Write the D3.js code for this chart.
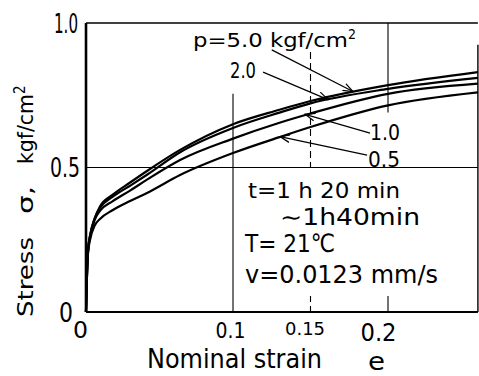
<!DOCTYPE html>
<html>
<head>
<meta charset="utf-8">
<script src="https://cdn.jsdelivr.net/npm/d3@7"></script>
<style>
  body { margin: 0; background: #fff; }
  svg { display: block; background: #fff; }
  text { font-family: "DejaVu Sans Condensed", "DejaVu Sans", sans-serif; fill: #000; }
</style>
</head>
<body>
<svg id="chart" width="479" height="376"></svg>
<script>
// Nominal strain sample points shared by all four curves
const strainPts = [0, 0.0005, 0.0014, 0.003, 0.006, 0.0095, 0.018, 0.03, 0.0415, 0.064, 0.1, 0.13, 0.15, 0.2, 0.258];
// Stress (kgf/cm2) for each confining pressure p
const stressP50 = [0, 0.10, 0.215, 0.27, 0.325, 0.365, 0.405, 0.448, 0.488, 0.561, 0.650, 0.700, 0.730, 0.785, 0.830];
const stressP20 = [0, 0.10, 0.215, 0.27, 0.325, 0.360, 0.398, 0.437, 0.475, 0.553, 0.637, 0.690, 0.722, 0.772, 0.810];
const stressP10 = [0, 0.10, 0.210, 0.265, 0.320, 0.350, 0.383, 0.420, 0.458, 0.526, 0.600, 0.655, 0.687, 0.755, 0.790];
const stressP05 = [0, 0.10, 0.205, 0.255, 0.300, 0.322, 0.352, 0.384, 0.412, 0.474, 0.550, 0.605, 0.640, 0.715, 0.760];
const pressures = ["5.0", "2.0", "1.0", "0.5"];
const yTicks = [0, 0.5, 1.0];
const yTickLabels = ["0", "0.5", "1.0"];
const xTicks = [0, 0.1, 0.15, 0.2];
const xTickLabels = ["0", "0.1", "0.15", "0.2"];
const conditions = ["t=1 h 20 min", "\u223c1h40min", "T= 21\u2103", "v=0.0123 mm/s"];

const svg = d3.select("#chart");
const x = d3.scaleLinear().domain([0, 0.1, 0.2, 0.26]).range([86, 233, 388, 481]);
const y = d3.scaleLinear().domain([0, 1]).range([312, 23]);
const xMax = 0.258;

// Frame
const frame = svg.append("g").attr("stroke", "#000").attr("fill", "none");
frame.append("line").attr("x1", x(0)).attr("x2", x(0)).attr("y1", y(1)).attr("y2", y(0)).attr("stroke-width", 2.6);
frame.append("line").attr("x1", x(0)).attr("x2", x(xMax)).attr("y1", y(0)).attr("y2", y(0)).attr("stroke-width", 2);
frame.append("line").attr("x1", x(0)).attr("x2", x(xMax)).attr("y1", y(1)).attr("y2", y(1)).attr("stroke-width", 1.4);
frame.append("line").attr("x1", x(xMax)).attr("x2", x(xMax)).attr("y1", y(0.925)).attr("y2", y(0)).attr("stroke-width", 1.4);

// Grid lines
const grid = svg.append("g").attr("stroke", "#000").attr("fill", "none").attr("stroke-width", 1.1);
grid.append("line").attr("x1", x(0)).attr("x2", x(xMax)).attr("y1", y(0.5)).attr("y2", y(0.5));
grid.append("line").attr("x1", x(0.1)).attr("x2", x(0.1)).attr("y1", y(0.755)).attr("y2", y(0));
grid.append("line").attr("x1", x(0.2)).attr("x2", x(0.2)).attr("y1", y(1)).attr("y2", y(0.69));
grid.append("line").attr("x1", x(0.2)).attr("x2", x(0.2)).attr("y1", y(0.055)).attr("y2", y(0));
grid.append("line").attr("x1", x(0.15)).attr("x2", x(0.15)).attr("y1", y(0.9)).attr("y2", y(0.5))
  .attr("stroke-dasharray", "7,4");
grid.append("line").attr("x1", x(0.15)).attr("x2", x(0.15)).attr("y1", y(0.055)).attr("y2", y(0))
  .attr("stroke-dasharray", "6,4");

const FONT = "'DejaVu Sans Condensed', 'DejaVu Sans', sans-serif";

// Axes (labels only, the frame draws the lines)
const yTickStyle = { 0: { size: 26, len: 14, dx: -5 }, 0.5: { size: 26, len: 30, dx: 2 }, 1: { size: 26, len: 24, dx: 0 } };
const yAxis = svg.append("g")
  .attr("transform", `translate(${x(0)},0)`)
  .call(d3.axisLeft(y).tickValues(yTicks).tickSize(0).tickPadding(8)
    .tickFormat((d, i) => yTickLabels[i]));
yAxis.select(".domain").remove();
yAxis.selectAll("text")
  .style("font-family", FONT)
  .attr("font-size", (d) => yTickStyle[d].size)
  .attr("textLength", (d) => yTickStyle[d].len)
  .attr("lengthAdjust", "spacingAndGlyphs")
  .attr("dx", (d) => yTickStyle[d].dx)
  .attr("dy", "0.36em");

const xTickStyle = { 0: { size: 23, len: 15, dx: -6, y: 338 }, 0.1: { size: 21, len: 30, dx: -3, y: 338 },
  0.15: { size: 17, len: 40, dx: -6, y: 335 }, 0.2: { size: 24, len: 36, dx: -10, y: 341 } };
const xAxis = svg.append("g")
  .call(d3.axisBottom(x).tickValues(xTicks).tickSize(0)
    .tickFormat((d, i) => xTickLabels[i]));
xAxis.select(".domain").remove();
xAxis.selectAll("text")
  .style("font-family", FONT)
  .attr("font-size", (d) => xTickStyle[d].size)
  .attr("textLength", (d) => xTickStyle[d].len)
  .attr("lengthAdjust", "spacingAndGlyphs")
  .attr("dx", (d) => xTickStyle[d].dx)
  .attr("y", (d) => xTickStyle[d].y)
  .attr("dy", 0);

// Curves
const series = [stressP50, stressP20, stressP10, stressP05].map((vals, i) => ({
  p: pressures[i],
  points: strainPts.map((s, j) => [s, vals[j]]),
}));
const line = d3.line().x((d) => x(d[0])).y((d) => y(d[1])).curve(d3.curveMonotoneX);
svg.append("g")
  .selectAll("path")
  .data(series)
  .join("path")
  .attr("d", (d) => line(d.points))
  .attr("fill", "none")
  .attr("stroke", "#000")
  .attr("stroke-width", 2.2)
  .attr("stroke-linejoin", "round");

// Open arrowheads for the label leaders
svg.append("defs").append("marker")
  .attr("id", "arrow")
  .attr("viewBox", "0 -5 11 10")
  .attr("refX", 10)
  .attr("refY", 0)
  .attr("markerWidth", 11)
  .attr("markerHeight", 10)
  .attr("markerUnits", "userSpaceOnUse")
  .attr("orient", "auto")
  .append("path")
  .attr("d", "M0,-3.8L10,0L0,3.8")
  .attr("fill", "none")
  .attr("stroke", "#000")
  .attr("stroke-width", 1.2);

// leader from label (strain, stress) to curve point
const leaders = [
  { from: [0.125, 0.907], to: [0.1774, 0.763] },
  { from: [0.1194, 0.830], to: [0.1613, 0.735] },
  { from: [0.1884, 0.619], to: [0.1465, 0.684] },
  { from: [0.1865, 0.543], to: [0.1303, 0.607] },
];
svg.append("g")
  .selectAll("line")
  .data(leaders)
  .join("line")
  .attr("x1", (d) => x(d.from[0]))
  .attr("y1", (d) => y(d.from[1]))
  .attr("x2", (d) => x(d.to[0]))
  .attr("y2", (d) => y(d.to[1]))
  .attr("stroke", "#000")
  .attr("stroke-width", 1.2)
  .attr("marker-end", "url(#arrow)");

function label(g, px, py, str, size, len) {
  const t = g.append("text").attr("x", px).attr("y", py).attr("font-size", size).text(str);
  if (len) t.attr("textLength", len).attr("lengthAdjust", "spacingAndGlyphs");
  return t;
}

const notes = svg.append("g");
// p = 5.0 kgf/cm2
const pLabel = notes.append("text").attr("x", 193).attr("y", 47).attr("font-size", 20);
pLabel.append("tspan").attr("textLength", 155).attr("lengthAdjust", "spacingAndGlyphs").text(`p=${pressures[0]} kgf/cm`);
pLabel.append("tspan").attr("dy", -8).attr("font-size", 14).text("2");
label(notes, 230, 78, pressures[1], 21, 26);
label(notes, 370, 140, pressures[2], 22, 30);
label(notes, 368, 167, pressures[3], 22, 32);

// Test conditions
label(notes, 248, 198, conditions[0], 22, 152);
label(notes, 280, 225, conditions[1], 23, 140);
label(notes, 245, 252, conditions[2], 25, 90);
label(notes, 245, 283, conditions[3], 25, 193);

// Axis titles
label(notes, 147, 368, "Nominal strain", 26, 175);
label(notes, 368, 370, "e", 24, 17);

const yt = svg.append("g").attr("transform", "translate(33,0)");
yt.append("text").attr("transform", "translate(0,317) rotate(-90)").attr("font-size", 22)
  .attr("textLength", 80).attr("lengthAdjust", "spacingAndGlyphs").text("Stress");
yt.append("text").attr("transform", "translate(0,214) rotate(-90)").attr("font-size", 22)
  .attr("textLength", 28).attr("lengthAdjust", "spacingAndGlyphs").text("\u03c3,");
const unit = yt.append("text").attr("transform", "translate(0,164) rotate(-90)").attr("font-size", 22);
unit.append("tspan").attr("textLength", 70).attr("lengthAdjust", "spacingAndGlyphs").text("kgf/cm");
unit.append("tspan").attr("dy", -8).attr("font-size", 15).text("2");
</script>
</body>
</html>
